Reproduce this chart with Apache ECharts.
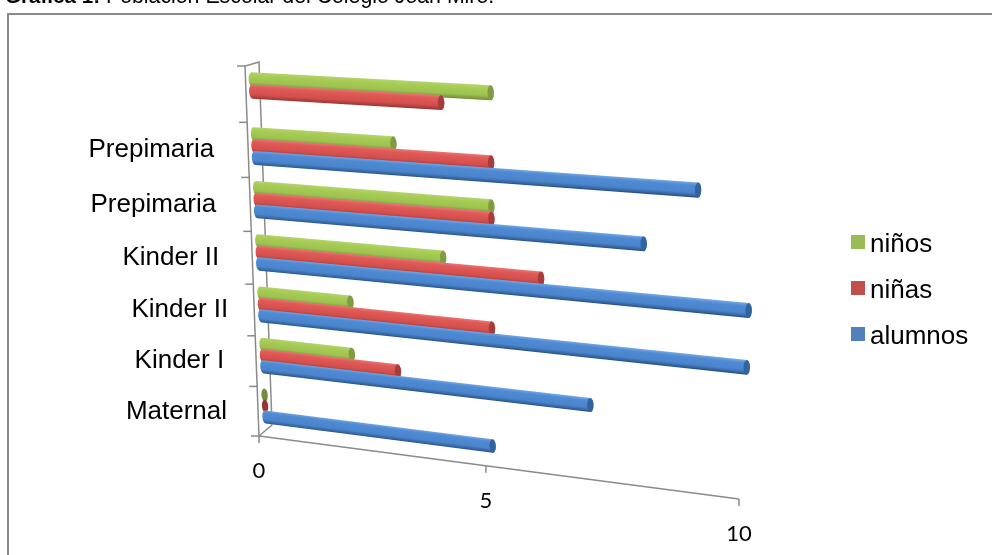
<!DOCTYPE html>
<html><head><meta charset="utf-8">
<style>html,body{margin:0;padding:0;background:#fff}#c{width:992px;height:555px}</style>
<script src="https://cdn.jsdelivr.net/npm/echarts@6/dist/echarts.min.js"></script>
</head><body><div id="c"></div>
<script>
// ---- data ----
const categories = ['Maternal', 'Kinder I', 'Kinder II', 'Kinder II', 'Prepimaria', 'Prepimaria', ''];
const alumnos = [5, 7, 10, 10, 8, 9, null];
const ninas   = [0, 3, 5, 6, 5, 5, 4];
const ninos   = [0, 2, 2, 4, 5, 3, 5];
const valueTicks = [0, 5, 10];
const legendNames = ['niños', 'niñas', 'alumnos'];
const titleBold = 'Gráfica 1:';
const titleRest = ' Población Escolar del Colegio Joan Miró.';

// ---- perspective of the 3-D look: value/category space -> page ----
const VMAX = 10, CMAX = 7;
function solveH(a) {
  const A = [];
  a.forEach(p => {
    A.push([p[0], p[1], 1, 0, 0, 0, -p[0] * p[2], -p[1] * p[2], p[2]]);
    A.push([0, 0, 0, p[0], p[1], 1, -p[0] * p[3], -p[1] * p[3], p[3]]);
  });
  for (let i = 0; i < 8; i++) {
    let m = i;
    for (let r = i + 1; r < 8; r++) if (Math.abs(A[r][i]) > Math.abs(A[m][i])) m = r;
    [A[i], A[m]] = [A[m], A[i]];
    for (let r = 0; r < 8; r++) if (r !== i) {
      const f = A[r][i] / A[i][i];
      for (let k = i; k < 9; k++) A[r][k] -= f * A[i][k];
    }
  }
  const h = A.map((row, i) => row[8] / row[i]);
  return (u, v) => {
    const w = h[6] * u + h[7] * v + 1;
    return [(h[0] * u + h[1] * v + h[2]) / w, (h[3] * u + h[4] * v + h[5]) / w];
  };
}
const barPlane = solveH([[0, .28, 265.5, 417], [10, .28, 743, 478], [10, 5.28, 752.5, 194], [0, 5.28, 255, 158]]);
const axisPlane = solveH([[0, 0, 259, 436], [10, 0, 739, 499], [0, 7, 245, 66], [10, 7, 765, 88]]);
const wallBottom = [272, 425], wallTop = [259, 62];

// flat (hidden) grid gives the value scale; its pixels are re-projected
const GRID = { left: 100, top: 100, width: 500, height: 350 };
function toData(pt) {
  return [(pt[0] - GRID.left) / GRID.width * VMAX, (GRID.top + GRID.height - pt[1]) / GRID.height * CMAX];
}
const AX = '#8a8a8a';
const labelGap = [31, 32, 26, 33, 34, 34];
const BAR_H = .13, CAP = 3.2;

function capPts(api, plane, v, c, from, to) {
  const d = toData(api.coord([v, c]));
  const C = plane(d[0], d[1]);
  const t = plane(d[0], d[1] + BAR_H), b = plane(d[0], d[1] - BAR_H);
  const A = [(t[0] - b[0]) / 2, (t[1] - b[1]) / 2];
  const n = plane(d[0] + 1, d[1]);
  const L = Math.hypot(n[0] - C[0], n[1] - C[1]);
  const B = [(n[0] - C[0]) / L * CAP, (n[1] - C[1]) / L * CAP];
  const pts = [];
  for (let i = 0; i <= 14; i++) {
    const a = from + (to - from) * i / 14;
    pts.push([C[0] + A[0] * Math.sin(a) + B[0] * Math.cos(a), C[1] + A[1] * Math.sin(a) + B[1] * Math.cos(a)]);
  }
  return { pts, C, t, b };
}

function barSeries(name, values, offset, pal) {
  return {
    name, type: 'custom', coordinateSystem: 'cartesian2d', silent: true,
    itemStyle: { color: pal.legend },
    encode: { x: 0, y: 1 },
    data: values.map((v, r) => [v, r + .5 + offset]).filter(d => d[0] !== null).reverse(),
    renderItem(params, api) {
      const v = api.value(0), c = api.value(1);
      if (v === 0) {
        return { type: 'polygon', shape: { points: capPts(api, barPlane, 0, c, 0, Math.PI * 2).pts }, style: { fill: pal.zero } };
      }
      const s = capPts(api, barPlane, 0, c, Math.PI * 1.5, Math.PI * .5);   // left half, top to bottom
      const e = capPts(api, barPlane, v, c, Math.PI * .5, -Math.PI * .5);   // right half, bottom to top
      const end = capPts(api, barPlane, v, c, 0, Math.PI * 2);
      // gradient perpendicular to the bar
      const dx = e.C[0] - s.C[0], dy = e.C[1] - s.C[1], L = Math.hypot(dx, dy);
      const nx = -dy / L, ny = dx / L, hw = Math.abs((s.b[0] - s.t[0]) * nx + (s.b[1] - s.t[1]) * ny) / 2;
      const grad = new echarts.graphic.LinearGradient(
        s.C[0] - nx * hw, s.C[1] - ny * hw, s.C[0] + nx * hw, s.C[1] + ny * hw, pal.stops, true);
      return {
        type: 'group', children: [
          { type: 'polygon', shape: { points: s.pts.concat(e.pts) }, style: { fill: grad } },
          { type: 'polygon', shape: { points: end.pts }, style: { fill: pal.end } }
        ]
      };
    }
  };
}

const palGreen = { legend: '#9BBB59', end: '#7f9c42', zero: '#6f8f3f',
  stops: [{ offset: 0, color: '#b4d272' }, { offset: .2, color: '#a8ce54' }, { offset: .7, color: '#9cc150' }, { offset: .92, color: '#7e9c40' }, { offset: 1, color: '#6f8a38' }] };
const palRed = { legend: '#C0504D', end: '#a63d3b', zero: '#9a3534',
  stops: [{ offset: 0, color: '#e67573' }, { offset: .2, color: '#e05a58' }, { offset: .7, color: '#d44e4c' }, { offset: .92, color: '#a83e3c' }, { offset: 1, color: '#963634' }] };
const palBlue = { legend: '#4F81BD', end: '#33639f', zero: '#33639f',
  stops: [{ offset: 0, color: '#6fa3e0' }, { offset: .2, color: '#4f8ad4' }, { offset: .7, color: '#4a84cc' }, { offset: .92, color: '#35659f' }, { offset: 1, color: '#2b5488' }] };

const FONT = '"Liberation Sans", Arial, sans-serif';

const axisSeries = {
  type: 'custom', coordinateSystem: 'cartesian2d', silent: true, z: 1,
  data: [[0, 0]],
  renderItem(params, api) {
    const P = (v, c) => { const d = toData(api.coord([v, c])); return axisPlane(d[0], d[1]); };
    const lineStyle = { stroke: AX, lineWidth: 1.5, fill: null };
    const ln = pts => ({ type: 'polyline', shape: { points: pts }, style: lineStyle });
    const kids = [];
    const o = P(0, 0), top = P(0, CMAX);
    kids.push(ln([wallBottom, wallTop, top, o, wallBottom]));
    kids.push(ln([o, P(VMAX, 0)]));
    for (let c = 0; c <= CMAX; c++) { const p = P(0, c); kids.push(ln([[p[0] - 8, p[1]], p])); }
    valueTicks.forEach(v => {
      const p = P(v, 0);
      kids.push(ln([p, [p[0], p[1] + 7]]));
      kids.push({ type: 'text', style: { x: p[0], y: p[1] + 35, text: String(v), align: 'center', verticalAlign: 'middle', font: '22px Lato, sans-serif', fill: '#000' } });
    });
    categories.forEach((name, r) => {
      if (!name) return;
      const p = P(0, r + .5);
      kids.push({ type: 'text', style: { x: p[0] - labelGap[r], y: p[1], text: name, align: 'right', verticalAlign: 'middle', font: '26px ' + FONT, fill: '#000' } });
    });
    return { type: 'group', children: kids };
  }
};

const chart = echarts.init(document.getElementById('c'));
chart.setOption({
  animation: false,
  backgroundColor: '#fff',
  title: {
    left: 5, top: -13, padding: 0,
    text: '{b|' + titleBold + '}{r|' + titleRest + '}',
    textStyle: { fontWeight: 'normal', rich: {
      b: { fontFamily: FONT, fontSize: 20.6, fontWeight: 'bold', color: '#000' },
      r: { fontFamily: FONT, fontSize: 21.3, fontWeight: 'normal', color: '#000' }
    } }
  },
  grid: GRID,
  xAxis: { type: 'value', min: 0, max: VMAX, show: false },
  yAxis: { type: 'value', min: 0, max: CMAX, show: false },
  legend: {
    orient: 'vertical', left: 851, top: 232, padding: 0,
    icon: 'path://M0 0H14V14H0Z M0 20L0.01 20Z', itemWidth: 14, itemHeight: 20, itemGap: 20,
    data: legendNames, selectedMode: false,
    textStyle: { fontFamily: FONT, fontSize: 26, color: '#000' }
  },
  graphic: [{ type: 'polyline', silent: true, shape: { points: [[8, 555], [8, 14], [992, 14]] }, style: { stroke: '#8c8c8c', lineWidth: 2, fill: null } }],
  series: [
    axisSeries,
    barSeries('niños', ninos, .22, palGreen),
    barSeries('niñas', ninas, 0, palRed),
    barSeries('alumnos', alumnos, -.22, palBlue)
  ]
});
</script></body></html>
